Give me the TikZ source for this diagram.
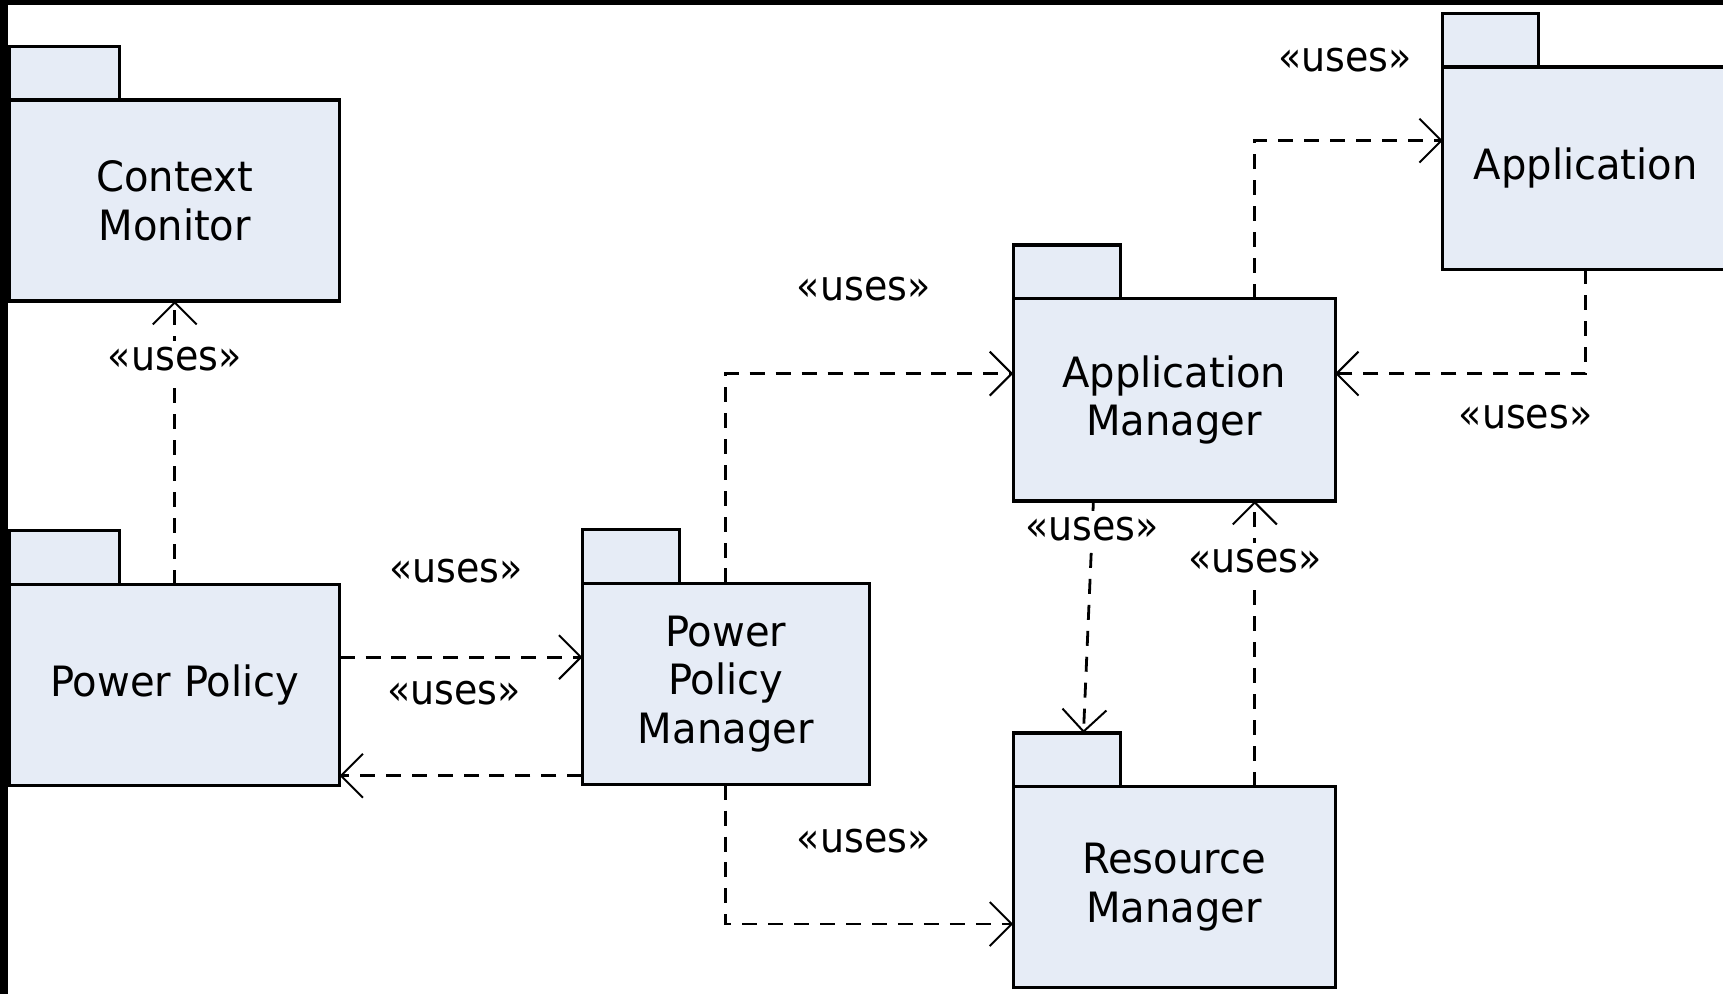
\documentclass[tikz,border=0pt]{standalone}
\usepackage{fontspec}
\setmainfont{DejaVu Sans}[FakeStretch=0.96]
\newfontfamily\lblfamily{DejaVu Sans}[FakeStretch=0.91]
\usepackage{tikz}
\usetikzlibrary{arrows.meta}
\usetikzlibrary{positioning}
\definecolor{pkgfill}{RGB}{230,236,246}
\newcommand{\pkgfont}{\fontsize{20.9pt}{24.3pt}\selectfont}
\newcommand{\lblfont}{\lblfamily\fontsize{20.9pt}{24.3pt}\selectfont}

\begin{document}
\begin{tikzpicture}[x=0.55pt,y=0.55pt,
  >={Straight Barb[length=11pt,width=22pt,line width=1pt]},
  pkg/.style={draw,fill=pkgfill,line width=1.6pt,outer sep=0pt,align=center,font=\pkgfont},
  tab/.style={draw,fill=pkgfill,line width=1.6pt,outer sep=0pt,anchor=south west,minimum height=26.95pt,inner sep=0pt},
  uses/.style={->,line width=1.4pt,dash pattern=on 7.5pt off 5.5pt},
  lbl/.style={font=\lblfont,inner sep=3pt}]

  \useasboundingbox (0,0) rectangle (1568,905);
  \clip (0,0) rectangle (1568,905);
  \fill[white] (0,0) rectangle (1568,905);
  \fill[black] (0,900.5) rectangle (1568,905);
  \fill[black] (0,0) rectangle (7,905);

  \node[pkg,minimum width=165pt,minimum height=100.65pt] (ctx) at (159,722.5) {Context\\Monitor};
  \node[pkg,minimum width=165pt,minimum height=100.65pt] (pol) at (159,281.5) {Power Policy};
  \node[pkg,minimum width=143.55pt,minimum height=100.65pt] (ppm) at (660.5,282.5) {Power\\Policy\\Manager};
  \node[pkg,minimum width=161.15pt,minimum height=101.2pt] (appm) at (1068.5,541) {Application\\Manager};
  \node[pkg,minimum width=161.15pt,minimum height=100.65pt] (resm) at (1068.5,97.5) {Resource\\Manager};
  \node[pkg,minimum width=143pt,minimum height=101.2pt] (app) at (1443,752) {Application};

  \node[tab,minimum width=55pt] (ctxtab) at (ctx.north west) {};
  \node[tab,minimum width=55pt] (poltab) at (pol.north west) {};
  \node[tab,minimum width=48.4pt] (ppmtab) at (ppm.north west) {};
  \node[tab,minimum width=53.9pt] (appmtab) at (appm.north west) {};
  \node[tab,minimum width=53.9pt] (resmtab) at (resm.north west) {};
  \node[tab,minimum width=47.9pt] (apptab) at (app.north west) {};

  \draw[uses] (pol.north) -- node[lbl,fill=white,pos=.795] {«uses»} (ctx.south);
  \draw[uses] ([yshift=14pt]pol.east) -- node[lbl,yshift=43pt,xshift=-2.5pt] {«uses»} ([yshift=14pt]pol.east -| ppm.west);
  \draw[uses] ([yshift=-45.9pt]ppm.west) -- node[lbl,yshift=41.3pt,xshift=-3.6pt] {«uses»} ([yshift=-45.9pt]ppm.west -| pol.east);
  \draw[uses] (ppm.north) |- node[lbl,pos=.74,yshift=42.4pt] {«uses»} ([yshift=13.2pt]appm.west);
  \draw[uses] (ppm.south) |- node[lbl,pos=.74,yshift=41.3pt] {«uses»} ([yshift=-18.4pt]resm.west);
  \draw[uses] ([xshift=-40.4pt]appm.south) -- node[lbl,fill=white,pos=.12] {«uses»} ([xshift=8.25pt]resmtab.north);
  \draw[uses] ([xshift=40.4pt]resm.north) -- node[lbl,fill=white,pos=.79] {«uses»} ([xshift=40.4pt]appm.south);
  \draw[uses] ([xshift=40.4pt]appm.north) |- node[lbl,pos=.74,yshift=40.2pt] {«uses»} ([yshift=13.75pt]app.west);
  \draw[uses] (app.south) |- node[lbl,pos=.62,yshift=-22pt] {«uses»} ([yshift=13.2pt]appm.east);
\end{tikzpicture}
\end{document}
